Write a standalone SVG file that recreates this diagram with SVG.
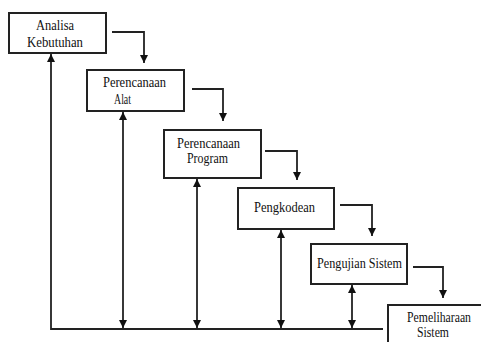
<svg xmlns="http://www.w3.org/2000/svg" width="481" height="342" viewBox="0 0 481 342">
<style>
.box{fill:#fff;stroke:#222;stroke-width:2}
.ln{fill:none;stroke:#222;stroke-width:1.8}
.t{font-family:"Liberation Serif","Times New Roman",serif;font-size:14px;fill:#111}
</style>
<defs>
<marker id="ah" viewBox="0 0 10 10" refX="10" refY="5" markerWidth="4.5" markerHeight="4.5" orient="auto-start-reverse" markerUnits="strokeWidth">
<path d="M0,0L10,5L0,10z" fill="#111"/>
</marker>
</defs>
<rect width="481" height="342" fill="#fff"/>
<g id="connectors">
<path class="ln" d="M112,32H144V63" marker-end="url(#ah)"/>
<path class="ln" d="M192,89H223V121" marker-end="url(#ah)"/>
<path class="ln" d="M265,151H297V180" marker-end="url(#ah)"/>
<path class="ln" d="M340,205H372V236" marker-end="url(#ah)"/>
<path class="ln" d="M413,267H443V298" marker-end="url(#ah)"/>
<path class="ln" d="M383,329H51V54" marker-end="url(#ah)"/>
<path class="ln" d="M123,112V328" marker-start="url(#ah)" marker-end="url(#ah)"/>
<path class="ln" d="M197,179V328" marker-start="url(#ah)" marker-end="url(#ah)"/>
<path class="ln" d="M281,230V328" marker-start="url(#ah)" marker-end="url(#ah)"/>
<path class="ln" d="M352,285V328" marker-start="url(#ah)" marker-end="url(#ah)"/>
</g>
<g id="n1">
<rect class="box" x="9" y="13" width="97" height="40"/>
<text class="t" x="36" y="30" textLength="38" lengthAdjust="spacingAndGlyphs">Analisa</text>
<text class="t" x="27" y="47" textLength="56" lengthAdjust="spacingAndGlyphs">Kebutuhan</text>
</g>
<g id="n2">
<rect class="box" x="87" y="70" width="97" height="41"/>
<text class="t" x="103" y="87" textLength="63" lengthAdjust="spacingAndGlyphs">Perencanaan</text>
<text class="t" x="114" y="104" textLength="17" lengthAdjust="spacingAndGlyphs">Alat</text>
</g>
<g id="n3">
<rect class="box" x="164" y="130" width="97" height="48"/>
<text class="t" x="177" y="148" textLength="63" lengthAdjust="spacingAndGlyphs">Perencanaan</text>
<text class="t" x="187" y="163" textLength="41" lengthAdjust="spacingAndGlyphs">Program</text>
</g>
<g id="n4">
<rect class="box" x="238" y="188" width="96" height="41"/>
<text class="t" x="254" y="212" textLength="61" lengthAdjust="spacingAndGlyphs">Pengkodean</text>
</g>
<g id="n5">
<rect class="box" x="311" y="244" width="96" height="40"/>
<text class="t" x="317" y="268" textLength="85" lengthAdjust="spacingAndGlyphs">Pengujian Sistem</text>
</g>
<g id="n6">
<rect class="box" x="388" y="305" width="100" height="45"/>
<text class="t" x="407" y="322" textLength="64" lengthAdjust="spacingAndGlyphs">Pemeliharaan</text>
<text class="t" x="417" y="337" textLength="32" lengthAdjust="spacingAndGlyphs">Sistem</text>
</g>
</svg>
